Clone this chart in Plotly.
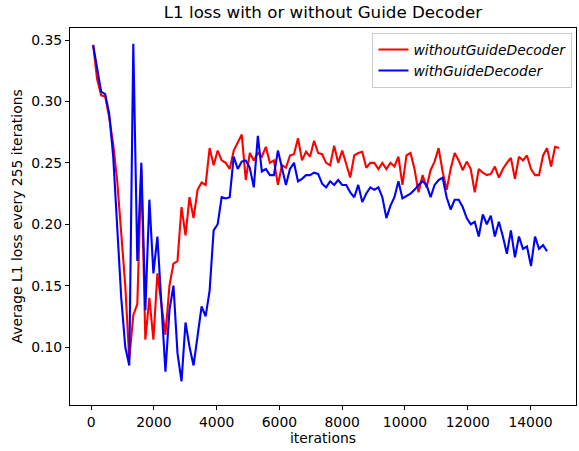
import plotly.graph_objects as go

# iteration index (every 128 iterations, first at 64)
iters_red = [64 + 128 * k for k in range(117)]
iters_blue = [64 + 128 * k for k in range(114)]

without_guide = [
    0.346, 0.318, 0.305, 0.304, 0.287, 0.265, 0.235, 0.195, 0.150, 0.090,
    0.126, 0.135, 0.245, 0.106, 0.140, 0.106, 0.160, 0.135, 0.110, 0.150,
    0.168, 0.170, 0.214, 0.191, 0.222, 0.205, 0.228, 0.234, 0.232, 0.262,
    0.248, 0.260, 0.252, 0.250, 0.245, 0.260, 0.266, 0.273, 0.236, 0.258,
    0.252, 0.258, 0.255, 0.263, 0.250, 0.252, 0.232, 0.248, 0.246, 0.256,
    0.257, 0.270, 0.252, 0.259, 0.255, 0.268, 0.258, 0.257, 0.250, 0.248,
    0.264, 0.250, 0.260, 0.248, 0.238, 0.256, 0.258, 0.259, 0.246, 0.250,
    0.250, 0.245, 0.250, 0.245, 0.250, 0.247, 0.255, 0.232, 0.256, 0.258,
    0.245, 0.226, 0.240, 0.230, 0.244, 0.251, 0.262, 0.243, 0.228, 0.245,
    0.258, 0.252, 0.244, 0.251, 0.245, 0.226, 0.245, 0.242, 0.240, 0.241,
    0.247, 0.238, 0.245, 0.250, 0.254, 0.237, 0.255, 0.252, 0.256, 0.245,
    0.240, 0.240, 0.256, 0.262, 0.247, 0.263, 0.262,
]

with_guide = [
    0.346, 0.328, 0.308, 0.306, 0.290, 0.255, 0.200, 0.140, 0.100, 0.085,
    0.347, 0.170, 0.250, 0.130, 0.220, 0.160, 0.190, 0.130, 0.080, 0.130,
    0.150, 0.095, 0.072, 0.120, 0.100, 0.085, 0.110, 0.133, 0.125, 0.146,
    0.195, 0.200, 0.222, 0.221, 0.222, 0.255, 0.245, 0.251, 0.252, 0.246,
    0.230, 0.272, 0.243, 0.245, 0.240, 0.240, 0.260, 0.245, 0.232, 0.245,
    0.250, 0.235, 0.237, 0.240, 0.240, 0.242, 0.241, 0.233, 0.230, 0.235,
    0.232, 0.236, 0.232, 0.232, 0.226, 0.222, 0.232, 0.218, 0.225, 0.230,
    0.228, 0.230, 0.222, 0.205, 0.215, 0.222, 0.235, 0.221, 0.223, 0.225,
    0.228, 0.232, 0.235, 0.232, 0.222, 0.232, 0.236, 0.238, 0.222, 0.212,
    0.220, 0.220, 0.214, 0.205, 0.200, 0.202, 0.190, 0.208, 0.200, 0.207,
    0.190, 0.202, 0.190, 0.176, 0.195, 0.173, 0.190, 0.180, 0.182, 0.166,
    0.190, 0.180, 0.183, 0.178,
]

x_ticks = [0, 2000, 4000, 6000, 8000, 10000, 12000, 14000]
y_ticks = [0.10, 0.15, 0.20, 0.25, 0.30, 0.35]

FONT = "DejaVu Sans"
W, H = 579, 451
L, R, T, B = 70, 3, 28, 46

fig = go.Figure()
fig.add_trace(go.Scatter(
    x=iters_red, y=without_guide, mode="lines",
    name="<i>withoutGuideDecoder</i>",
    line=dict(color="#ff0000", width=2.1),
))
fig.add_trace(go.Scatter(
    x=iters_blue, y=with_guide, mode="lines",
    name="<i>withGuideDecoder</i>",
    line=dict(color="#0000ff", width=2.1),
))

axis_common = dict(
    showgrid=False, zeroline=False, showline=True, mirror=True,
    linecolor="black", linewidth=1, ticks="outside", ticklen=4,
    tickcolor="black", tickwidth=1, automargin=False,
    tickfont=dict(family=FONT, size=13.9, color="black"),
)

pw = W - L - R
ph = H - T - B

fig.update_layout(
    width=W, height=H,
    margin=dict(l=L, r=R, t=T, b=B, pad=0),
    paper_bgcolor="white", plot_bgcolor="white",
    font=dict(family=FONT, color="black"),
    title=dict(text="L1 loss with or without Guide Decoder",
               x=(L + pw / 2) / W, xanchor="center",
               y=1 - 12 / H, yanchor="middle",
               font=dict(family=FONT, size=16.7, color="black")),
    xaxis=dict(range=[-673, 15450], tickvals=x_ticks,
               ticktext=[str(v) for v in x_ticks], **axis_common),
    yaxis=dict(range=[0.0528, 0.3598], tickvals=y_ticks,
               ticktext=["%.2f" % v for v in y_ticks], **axis_common),
    legend=dict(x=0.993, y=0.987, xanchor="right", yanchor="top",
                bgcolor="rgba(255,255,255,0.8)", bordercolor="#cccccc",
                borderwidth=1, font=dict(family=FONT, size=13.9, color="black"),
                tracegroupgap=0, itemwidth=30),
    showlegend=True,
    annotations=[
        dict(text="iterations", xref="paper", yref="paper",
             x=0.5, y=-(438 - (H - B)) / ph, xanchor="center", yanchor="middle",
             showarrow=False, font=dict(family=FONT, size=13.9, color="black")),
        dict(text="Average L1 loss every 255 iterations", xref="paper", yref="paper",
             x=-(L - 16) / pw, y=0.5, xanchor="center", yanchor="middle",
             textangle=-90, showarrow=False,
             font=dict(family=FONT, size=13.9, color="black")),
    ],
)

fig.write_html("out.html",
               config={"displayModeBar": False},
               post_script="document.body.style.margin='0';document.body.style.overflow='hidden';")
